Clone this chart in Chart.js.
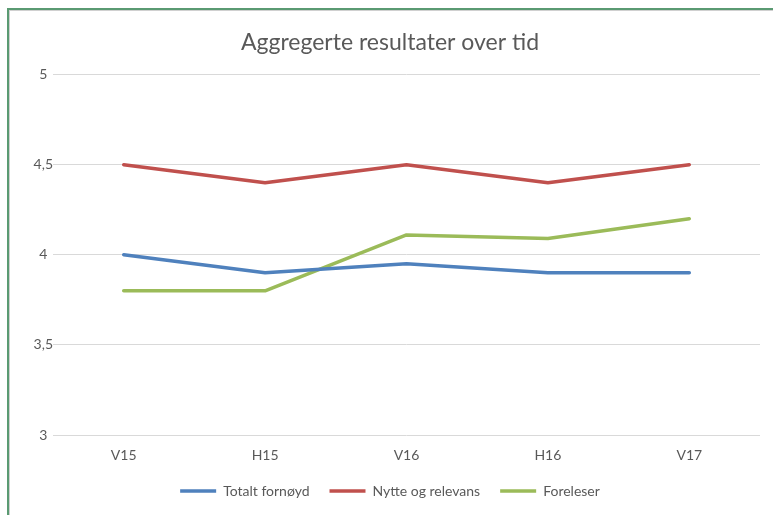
<!DOCTYPE html>
<html>
<head>
<meta charset="utf-8">
<script src="https://cdn.jsdelivr.net/npm/chart.js@4"></script>
<style>
html,body{margin:0;padding:0;background:#fff;width:773px;height:515px;overflow:hidden;}
#frame{position:absolute;left:7px;top:8px;width:800px;height:600px;border-top:2px solid #5a9a72;border-left:2px solid #5a9a72;box-shadow:inset 1px 1px 0 #d0d0d0;}
#wrap{position:absolute;left:0;top:0;width:773px;height:515px;}
</style>
</head>
<body>
<div id="frame"></div>
<div id="wrap"><canvas id="c" width="773" height="515"></canvas></div>
<script>
const categories = ['V15', 'H15', 'V16', 'H16', 'V17'];
const totaltFornoyd = [4.0, 3.9, 3.95, 3.9, 3.9];
const nytteOgRelevans = [4.5, 4.4, 4.5, 4.4, 4.5];
const foreleser = [3.8, 3.8, 4.11, 4.09, 4.2];
const seriesNames = ['Totalt fornøyd', 'Nytte og relevans', 'Foreleser'];
const titleText = 'Aggregerte resultater over tid';

const colors = ['#4f81bd', '#c0504d', '#9bbb59'];
const FONT = 'Lato, "Liberation Sans", sans-serif';

function ds(label, data, color) {
  return {label, data, borderColor: color, backgroundColor: color, borderWidth: 3.5,
    pointRadius: 0, pointHoverRadius: 0, tension: 0, fill: false, borderCapStyle: 'round', borderJoinStyle: 'round'};
}

new Chart(document.getElementById('c'), {
  type: 'line',
  data: {
    labels: categories,
    datasets: [
      ds(seriesNames[0], totaltFornoyd, colors[0]),
      ds(seriesNames[1], nytteOgRelevans, colors[1]),
      ds(seriesNames[2], foreleser, colors[2])
    ]
  },
  options: {
    responsive: false,
    animation: false,
    layout: {padding: {left: 20, right: 13, top: 0, bottom: 7}},
    plugins: {
      title: {display: true, text: titleText, color: '#595959',
        font: {family: FONT, size: 23, weight: 'normal'}, padding: {top: 29, bottom: 18}},
      legend: {position: 'bottom',
        labels: {usePointStyle: true, pointStyle: 'line', pointStyleWidth: 36, color: '#595959',
          font: {family: FONT, size: 14}, padding: 20}},
      tooltip: {enabled: false}
    },
    scales: {
      x: {
        offset: true,
        grid: {display: false, drawTicks: false, offset: true},
        border: {display: false},
        ticks: {color: '#595959', font: {family: FONT, size: 14}, padding: 12},
        afterFit(s) { s.height = 29; }
      },
      y: {
        min: 3, max: 5,
        grid: {color: '#d9d9d9', lineWidth: 1, drawTicks: false},
        border: {display: false},
        ticks: {stepSize: 0.5, color: '#595959', font: {family: FONT, size: 14}, padding: 0, crossAlign: 'center',
          callback: v => String(v).replace('.', ',')},
        afterFit(s) { s.width = 33; }
      }
    }
  }
});
</script>
</body>
</html>
